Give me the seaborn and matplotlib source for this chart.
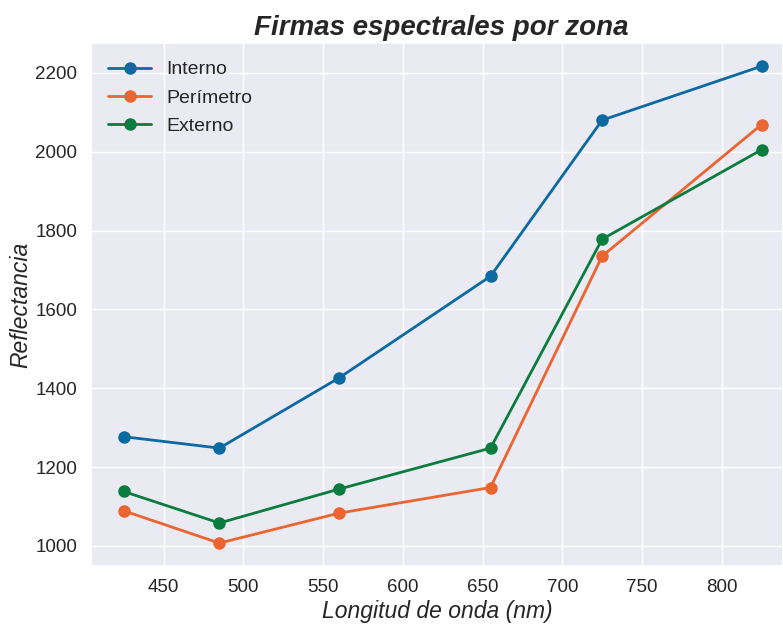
import matplotlib
matplotlib.use("Agg")
import matplotlib.pyplot as plt
import seaborn as sns
import pandas as pd

wavelengths = [425, 485, 560, 655, 725, 825]
zones = ["Interno", "Perímetro", "Externo"]
interno = [1277, 1248, 1426, 1684, 2080, 2217]
perimetro = [1089, 1007, 1083, 1148, 1735, 2069]
externo = [1138, 1058, 1144, 1248, 1778, 2005]
x_ticks = [450, 500, 550, 600, 650, 700, 750, 800]
y_ticks = [1000, 1200, 1400, 1600, 1800, 2000, 2200]

zone_colors = ["#0B6AA2", "#EC6430", "#0A7D3E"]
line_width = 2.0
marker_size = 9
title_fontsize = 20
label_fontsize = 16.5
tick_fontsize = 13.5
legend_fontsize = 14

sns.set_theme(style="darkgrid")
plt.rcParams["font.family"] = ["Liberation Sans", "DejaVu Sans"]

df = pd.DataFrame({
    "wavelength": wavelengths * 3,
    "reflectance": interno + perimetro + externo,
    "zone": [z for z in zones for _ in wavelengths],
})

fig = plt.figure(figsize=(7.83, 6.24), dpi=100)
ax = fig.add_axes([0.1158, 0.093, 0.8842, 0.8376])

sns.lineplot(data=df, x="wavelength", y="reflectance", hue="zone", hue_order=zones,
             palette=zone_colors, marker="o", markersize=marker_size, markeredgewidth=0,
             linewidth=line_width, ax=ax)

ax.set_xlim(404.3, 838.4)
ax.set_ylim(949, 2275)
ax.set_xticks(x_ticks)
ax.set_yticks(y_ticks)
ax.tick_params(labelsize=tick_fontsize, colors="#262626")

ax.set_title("Firmas espectrales por zona", fontsize=title_fontsize,
             fontweight="bold", fontstyle="italic", x=0.507)
ax.set_xlabel("Longitud de onda (nm)", fontsize=label_fontsize, fontstyle="italic", labelpad=3)
ax.set_ylabel("Reflectancia", fontsize=label_fontsize, fontstyle="italic", labelpad=2)

sns.move_legend(ax, "upper left", frameon=False, title=None, fontsize=legend_fontsize,
                handlelength=2.2, labelspacing=0.55)

fig.savefig("out.png", dpi=100)
